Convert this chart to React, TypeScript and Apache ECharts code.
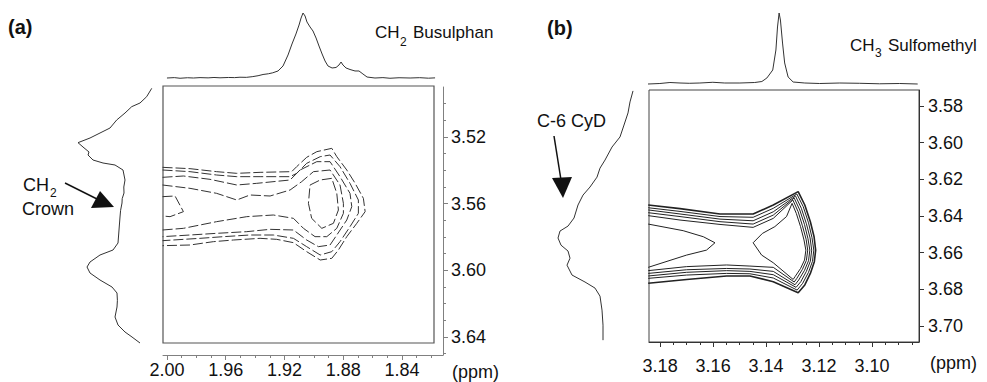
import React, { useEffect, useRef } from "react";
import * as echarts from "echarts";

const FONT = "'Liberation Sans', Arial, Helvetica, sans-serif";

// ---------- Panel (a) axes ----------
const xRangeA = [1.8121, 2.0027];
const yRangeA = [3.49, 3.6508];
const xTicksA = [2.0, 1.96, 1.92, 1.88, 1.84];
const xMinorA = [1.99, 1.98, 1.97, 1.95, 1.94, 1.93, 1.91, 1.9, 1.89, 1.87, 1.86, 1.85, 1.83, 1.82];
const yTicksA = [3.52, 3.56, 3.6, 3.64];
const yMinorA = [3.5, 3.51, 3.53, 3.54, 3.55, 3.57, 3.58, 3.59, 3.61, 3.62, 3.63, 3.65];

// ---------- Panel (b) axes ----------
const xRangeB = [3.0823, 3.1842];
const yRangeB = [3.5713, 3.7087];
const xTicksB = [3.18, 3.16, 3.14, 3.12, 3.1];
const xMinorB = [3.175, 3.17, 3.165, 3.155, 3.15, 3.145, 3.135, 3.13, 3.125, 3.115, 3.11, 3.105, 3.095, 3.09, 3.085];
const yTicksB = [3.58, 3.6, 3.62, 3.64, 3.66, 3.68, 3.7];

// ---------- Panel (a) projections ----------
const projTopA = [
  [2.0, 0.0], [1.995, 0.006], [1.9911, -0.004], [1.986, 0.004], [1.982, 0.0], [1.9775, 0.006],
  [1.972, 0.002], [1.968, 0.008], [1.9639, 0.003], [1.958, 0.008], [1.954, 0.006], [1.9503, 0.012],
  [1.946, 0.01], [1.942, 0.02], [1.938, 0.035], [1.9346, 0.054], [1.931, 0.065], [1.928, 0.08],
  [1.9244, 0.108], [1.921, 0.185], [1.9176, 0.354], [1.9149, 0.523], [1.9122, 0.677], [1.9101, 0.815],
  [1.9087, 0.923], [1.9074, 1.0], [1.906, 0.954], [1.9047, 0.862], [1.9026, 0.785], [1.9006, 0.723],
  [1.8985, 0.615], [1.8965, 0.492], [1.8944, 0.369], [1.8924, 0.262], [1.8904, 0.185], [1.8876, 0.154],
  [1.8849, 0.162], [1.8829, 0.2], [1.8815, 0.246], [1.8802, 0.2], [1.8781, 0.154], [1.8754, 0.131],
  [1.872, 0.108], [1.8693, 0.108], [1.8666, 0.062], [1.8638, 0.015], [1.8584, 0.0], [1.853, 0.006],
  [1.8482, -0.004], [1.842, 0.004], [1.8345, 0.0], [1.828, 0.005], [1.822, -0.003], [1.8175, 0.002],
];
const projLeftA = [
  [0.041, 3.4908], [0.104, 3.4958], [0.1875, 3.4996], [0.291, 3.5018], [0.375, 3.5056], [0.479, 3.5098],
  [0.5625, 3.5146], [0.6875, 3.5176], [0.8125, 3.5206], [0.9625, 3.5234], [0.9, 3.526], [0.825, 3.529],
  [0.8375, 3.5308], [0.775, 3.5338], [0.65, 3.5356], [0.5, 3.5368], [0.4, 3.5398], [0.375, 3.5458],
  [0.39, 3.55], [0.3875, 3.5536], [0.41, 3.557], [0.4125, 3.5596], [0.43, 3.564], [0.4375, 3.568],
  [0.45, 3.5758], [0.4625, 3.5836], [0.525, 3.5878], [0.6875, 3.5908], [0.8125, 3.595], [0.85, 3.598],
  [0.8125, 3.6016], [0.6875, 3.6058], [0.5375, 3.61], [0.475, 3.6136], [0.47, 3.618], [0.475, 3.622],
  [0.5, 3.628], [0.4625, 3.6328], [0.375, 3.637], [0.2875, 3.64], [0.1875, 3.6436],
];

// ---------- Panel (a) contours ----------
const contourA1 = [
  [2.003, 3.5382], [1.9843, 3.539], [1.9662, 3.5408], [1.9525, 3.5418], [1.9366, 3.5412], [1.9151, 3.5408],
  [1.9117, 3.5378], [1.9049, 3.5322], [1.898, 3.5288], [1.8878, 3.5268], [1.8844, 3.5318], [1.8776, 3.5398],
  [1.8719, 3.5478], [1.8663, 3.5568], [1.8651, 3.5648], [1.8708, 3.5718], [1.8776, 3.5798], [1.8833, 3.5878],
  [1.8878, 3.5928], [1.8957, 3.5938], [1.9049, 3.5888], [1.9139, 3.5834], [1.9253, 3.5814], [1.9366, 3.5808],
  [1.9548, 3.5818], [1.9684, 3.5828], [1.9843, 3.5848], [2.003, 3.5852],
];
const contourA2 = [
  [2.003, 3.5398], [1.9843, 3.5408], [1.9662, 3.5428], [1.9525, 3.5438], [1.9366, 3.5438], [1.9162, 3.5438],
  [1.9117, 3.5418], [1.9049, 3.5358], [1.8957, 3.5318], [1.889, 3.5308], [1.8822, 3.5378], [1.8754, 3.5478],
  [1.8697, 3.5578], [1.8697, 3.5658], [1.8754, 3.5738], [1.8822, 3.5828], [1.8878, 3.5888], [1.8957, 3.5908],
  [1.9049, 3.5858], [1.9139, 3.5808], [1.9276, 3.5788], [1.9435, 3.5788], [1.9616, 3.5798], [1.9775, 3.5808],
  [2.003, 3.5822],
];
const contourA3 = [
  [2.003, 3.5442], [1.9888, 3.5434], [1.9707, 3.5454], [1.9525, 3.5488], [1.9389, 3.5478], [1.9162, 3.5458],
  [1.9094, 3.5398], [1.898, 3.5348], [1.889, 3.5348], [1.8822, 3.5438], [1.8754, 3.5538], [1.8742, 3.5618],
  [1.8776, 3.5698], [1.8844, 3.5788], [1.889, 3.5848], [1.8969, 3.5858], [1.9049, 3.5818], [1.9139, 3.5758],
  [1.9298, 3.5754], [1.9457, 3.5768], [1.9662, 3.5778], [1.9843, 3.5788], [2.003, 3.5798],
];
const contourA4 = [
  [2.003, 3.5488], [1.9843, 3.5508], [1.9662, 3.5538], [1.9525, 3.5578], [1.9435, 3.5548], [1.9298, 3.5554],
  [1.9162, 3.5518], [1.9083, 3.5468], [1.9003, 3.5408], [1.889, 3.5398], [1.8822, 3.5488], [1.8799, 3.5598],
  [1.8799, 3.5658], [1.8844, 3.5748], [1.8912, 3.5798], [1.8992, 3.5798], [1.9071, 3.5748], [1.9139, 3.5688],
  [1.9276, 3.5668], [1.9457, 3.5678], [1.9662, 3.5708], [1.9888, 3.5748], [2.003, 3.5758],
];
const contourA5 = [
  [1.9026, 3.5488], [1.8957, 3.5458], [1.8878, 3.5448], [1.8844, 3.5538], [1.8833, 3.5638], [1.8867, 3.5718],
  [1.8946, 3.5748], [1.9015, 3.5688], [1.9037, 3.5598], [1.9026, 3.5488],
];
const contourA6 = [
  [2.003, 3.5558], [1.9945, 3.5554], [1.9888, 3.5648], [1.9979, 3.5678], [2.003, 3.5674],
];

// ---------- Panel (b) projections ----------
const projTopB = [
  [3.1846, 0.0], [3.1801, 0.007], [3.1763, 0.021], [3.1725, 0.014], [3.169, 0.01], [3.165, 0.014],
  [3.1601, 0.024], [3.1556, 0.014], [3.1499, 0.014], [3.1443, 0.021], [3.1416, 0.035], [3.1397, 0.085],
  [3.1375, 0.197], [3.1363, 0.479], [3.1357, 0.803], [3.1351, 1.0], [3.1346, 0.901], [3.1338, 0.577],
  [3.133, 0.296], [3.1317, 0.099], [3.1298, 0.028], [3.1254, 0.014], [3.1198, 0.007], [3.1122, 0.014],
  [3.1047, 0.01], [3.0972, 0.003], [3.0896, 0.007], [3.0828, 0.0],
];
const projLeftB = [
  [0.025, 3.5718], [0.0625, 3.5778], [0.0875, 3.5838], [0.1375, 3.5904], [0.1875, 3.5969], [0.2875, 3.6024],
  [0.375, 3.6095], [0.4375, 3.6139], [0.475, 3.6188], [0.5625, 3.6242], [0.65, 3.6286], [0.7125, 3.634],
  [0.7625, 3.6411], [0.8375, 3.6455], [0.9375, 3.6482], [0.9625, 3.652], [0.925, 3.6559], [0.8375, 3.6591],
  [0.8125, 3.663], [0.85, 3.6668], [0.7875, 3.6722], [0.625, 3.676], [0.5, 3.6793], [0.4375, 3.6837],
  [0.4125, 3.6913], [0.4, 3.6995], [0.4, 3.7077],
];

// ---------- Panel (b) contours ----------
const contourB1 = [
  [3.1845, 3.634], [3.1725, 3.636], [3.1574, 3.6389], [3.1449, 3.6389], [3.1373, 3.634], [3.1279, 3.6267],
  [3.1254, 3.634], [3.1233, 3.6431], [3.1219, 3.6513], [3.1213, 3.6586],
  [3.1218, 3.6649], [3.1233, 3.6713], [3.1254, 3.6776], [3.1279, 3.6818],
  [3.1373, 3.6758], [3.1461, 3.6727], [3.1549, 3.6727], [3.17, 3.6746], [3.1845, 3.6767],
];
const contourB2 = [
  [3.1845, 3.6355], [3.1725, 3.6375], [3.1574, 3.6403], [3.1449, 3.6407], [3.1373, 3.6358], [3.1284, 3.628],
  [3.126, 3.6349], [3.124, 3.6437], [3.1227, 3.6517], [3.122, 3.6586],
  [3.1225, 3.6647], [3.124, 3.6707], [3.1262, 3.6767], [3.1283, 3.6804],
  [3.1373, 3.6738], [3.1461, 3.6715], [3.1549, 3.6713], [3.17, 3.6722], [3.1845, 3.674],
];
const contourB3 = [
  [3.1845, 3.6367], [3.1725, 3.6389], [3.1574, 3.6417], [3.1449, 3.6426], [3.1373, 3.6377], [3.1289, 3.6291],
  [3.1267, 3.6358], [3.1248, 3.6442], [3.1234, 3.652], [3.1228, 3.6586],
  [3.1233, 3.6646], [3.1248, 3.6702], [3.1269, 3.6758], [3.1287, 3.6789],
  [3.1373, 3.672], [3.1461, 3.6702], [3.1549, 3.6698], [3.17, 3.6707], [3.1845, 3.6727],
];
const contourB4 = [
  [3.1845, 3.6382], [3.1725, 3.6403], [3.1574, 3.6431], [3.1449, 3.6444], [3.1373, 3.6395], [3.1294, 3.6302],
  [3.1273, 3.6367], [3.1255, 3.6447], [3.1242, 3.6524], [3.1235, 3.6586],
  [3.124, 3.6644], [3.1255, 3.6696], [3.1277, 3.6749], [3.1291, 3.6775],
  [3.1373, 3.6702], [3.1461, 3.6689], [3.1549, 3.6686], [3.17, 3.6693], [3.1845, 3.6713],
];
const contourB5 = [
  [3.1845, 3.6398], [3.1725, 3.6422], [3.1574, 3.6446], [3.1449, 3.6462], [3.1373, 3.6413], [3.1299, 3.6313],
  [3.1279, 3.6377], [3.1263, 3.6453], [3.1249, 3.6527], [3.1243, 3.6586],
  [3.1248, 3.6642], [3.1263, 3.6691], [3.1284, 3.674], [3.1294, 3.676],
  [3.1373, 3.668], [3.1461, 3.6673], [3.1549, 3.6667], [3.17, 3.6676], [3.1845, 3.6698],
];
const contourB6L = [
  [3.1845, 3.6444], [3.1713, 3.648], [3.1637, 3.6513], [3.1593, 3.6546], [3.1625, 3.6586], [3.17, 3.6613],
  [3.1845, 3.668],
];
const contourB6R = [
  [3.1449, 3.6546], [3.1414, 3.6495], [3.1367, 3.6458], [3.1323, 3.6403], [3.1302, 3.6331],
  [3.1286, 3.6386], [3.127, 3.6458], [3.1257, 3.6531], [3.125, 3.6586], [3.1255, 3.664], [3.127, 3.6686],
  [3.1291, 3.6731], [3.1298, 3.6746], [3.1373, 3.6655], [3.1417, 3.6613], [3.1449, 3.6546],
];

const contoursA = [contourA1, contourA2, contourA3, contourA4, contourA5, contourA6];
const contoursB = [contourB1, contourB2, contourB3, contourB4, contourB5, contourB6L, contourB6R];

function majorX(gridIndex: number, range: number[], ticks: number[], color: string, margin: number) {
  return {
    type: "value", gridIndex, min: range[0], max: range[1], inverse: true, position: "bottom",
    axisLine: { show: true, onZero: false, lineStyle: { color, width: 1 } },
    axisTick: { show: true, customValues: ticks, length: 5, lineStyle: { color, width: 1 } },
    axisLabel: {
      show: true, customValues: ticks, formatter: (v: number) => v.toFixed(2),
      fontSize: 18, fontFamily: FONT, color: "#111", margin,
    },
    splitLine: { show: false },
  };
}
function majorY(gridIndex: number, range: number[], ticks: number[], color: string, margin: number) {
  return {
    type: "value", gridIndex, min: range[0], max: range[1], inverse: true, position: "right",
    axisLine: { show: true, onZero: false, lineStyle: { color, width: 1 } },
    axisTick: { show: true, customValues: ticks, length: 5, lineStyle: { color, width: 1 } },
    axisLabel: {
      show: true, customValues: ticks, formatter: (v: number) => v.toFixed(2),
      fontSize: 18, fontFamily: FONT, color: "#111", margin,
    },
    splitLine: { show: false },
  };
}
function minorAxis(gridIndex: number, range: number[], ticks: number[], color: string, position: string) {
  return {
    type: "value", gridIndex, min: range[0], max: range[1], inverse: true, position,
    axisLine: { show: false, onZero: false },
    axisTick: { show: ticks.length > 0, customValues: ticks, length: 3, lineStyle: { color, width: 1 } },
    axisLabel: { show: false },
    splitLine: { show: false },
  };
}
function hidden(gridIndex: number, min: number, max: number, inverse: boolean) {
  return { type: "value", gridIndex, min, max, inverse, show: false, splitLine: { show: false } };
}

function lineSeries(xi: number, yi: number, data: number[][], style: any, clip = true) {
  return {
    type: "line", xAxisIndex: xi, yAxisIndex: yi, data, symbol: "none", showSymbol: false,
    silent: true, clip, lineStyle: style, emphasis: { disabled: true },
  };
}

function txt(text: string, x: number, y: number, size: number, bold = false) {
  return {
    type: "text", x, y, silent: true,
    style: {
      text, fill: "#111", font: `${bold ? "bold " : ""}${size}px ${FONT}`,
      textAlign: "left", textVerticalAlign: "middle",
    },
  };
}

export default function App() {
  const ref = useRef<HTMLDivElement>(null);
  useEffect(() => {
    if (!ref.current) return;
    const chart = echarts.init(ref.current, undefined, { renderer: "svg" });
    const axA = "#808080";
    const axB = "#333";
    const option: any = {
      animation: false,
      grid: [
        { left: 163, top: 87, width: 280, height: 268 }, // 0 a main
        { left: 163, top: 86, width: 271, height: 257, show: true, borderColor: "#555", borderWidth: 1.2, backgroundColor: "transparent" }, // 1 a box
        { left: 163, top: 13, width: 280, height: 65 }, // 2 a top
        { left: 75, top: 87, width: 80, height: 268 }, // 3 a left
        { left: 649, top: 90, width: 270, height: 252, show: true, borderColor: "#444", borderWidth: 1, backgroundColor: "transparent" }, // 4 b main
        { left: 649, top: 13, width: 270, height: 71 }, // 5 b top
        { left: 555, top: 90, width: 80, height: 252 }, // 6 b left
      ],
      xAxis: [
        majorX(0, xRangeA, xTicksA, axA, 6),
        minorAxis(0, xRangeA, xMinorA, axA, "bottom"),
        hidden(1, 0, 1, false),
        hidden(2, xRangeA[0], xRangeA[1], true),
        hidden(3, 0, 1, true),
        majorX(4, xRangeB, xTicksB, axB, 15),
        minorAxis(4, xRangeB, xMinorB, axB, "bottom"),
        hidden(5, xRangeB[0], xRangeB[1], true),
        hidden(6, 0, 1, true),
      ],
      yAxis: [
        majorY(0, yRangeA, yTicksA, axA, 8),
        minorAxis(0, yRangeA, yMinorA, axA, "right"),
        hidden(1, 0, 1, false),
        hidden(2, 0, 1, false),
        hidden(3, yRangeA[0], yRangeA[1], true),
        majorY(4, yRangeB, yTicksB, axB, 9),
        hidden(4, yRangeB[0], yRangeB[1], true),
        hidden(5, 0, 1, false),
        hidden(6, yRangeB[0], yRangeB[1], true),
      ],
      series: [
        ...contoursA.map((c) => lineSeries(0, 0, c, { color: "#333", width: 1, type: [10, 3] })),
        lineSeries(3, 3, projTopA, { color: "#333", width: 1 }, false),
        lineSeries(4, 4, projLeftA, { color: "#333", width: 1 }, false),
        ...contoursB.map((c, i) => lineSeries(5, 5, c, { color: "#222", width: i === 0 ? 1.6 : 1 })),
        lineSeries(7, 7, projTopB, { color: "#333", width: 1 }, false),
        lineSeries(8, 8, projLeftB, { color: "#333", width: 1 }, false),
      ],
      graphic: [
        txt("(a)", 8, 27, 20, true),
        txt("(b)", 547, 28, 20, true),
        txt("CH", 375, 32, 17),
        txt("2", 400, 42, 12),
        txt("Busulphan", 413, 32, 17),
        txt("CH", 850, 45, 17),
        txt("3", 875, 53, 12),
        txt("Sulfomethyl", 888, 45, 17),
        txt("CH", 23, 185, 18),
        txt("2", 50, 193, 12),
        txt("Crown", 22, 209, 18),
        txt("C-6 CyD", 537, 121, 18),
        txt("(ppm)", 452, 372, 18),
        txt("(ppm)", 930, 363, 18),
        { type: "line", silent: true, shape: { x1: 65, y1: 183, x2: 97, y2: 199 }, style: { stroke: "#111", lineWidth: 1.5 } },
        { type: "polygon", silent: true, shape: { points: [[100, 191], [91, 208], [114, 207]] }, style: { fill: "#111" } },
        { type: "line", silent: true, shape: { x1: 554, y1: 136, x2: 561, y2: 180 }, style: { stroke: "#111", lineWidth: 1.5 } },
        { type: "polygon", silent: true, shape: { points: [[552, 178], [572, 177], [563, 198]] }, style: { fill: "#111" } },
      ],
    };
    chart.setOption(option);
    return () => chart.dispose();
  }, []);
  return (
    <div
      ref={ref}
      style={{ position: "fixed", left: 0, top: 0, width: 987, height: 382, background: "#fff" }}
    />
  );
}
